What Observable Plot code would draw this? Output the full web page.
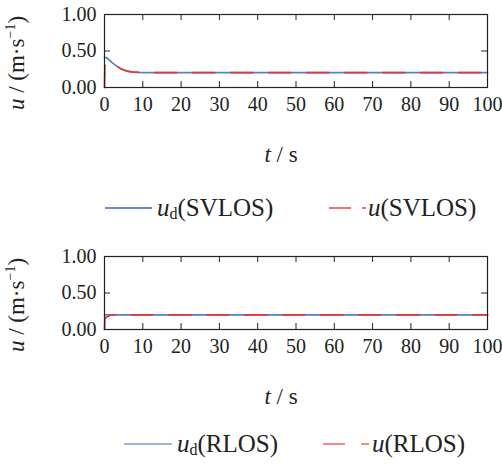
<!DOCTYPE html>
<html>
<head>
<meta charset="utf-8">
<script src="https://cdn.jsdelivr.net/npm/d3@7"></script>
<script src="https://cdn.jsdelivr.net/npm/@observablehq/plot@0.6"></script>
<style>
  body { margin: 0; background: #fff; }
  #wrap { position: relative; width: 502px; height: 464px; font-family: "Liberation Serif", "Times New Roman", serif; color: #222; }
  .abs { position: absolute; white-space: nowrap; }
  .ylab { font-size: 23px; transform: translate(-50%, -50%) rotate(-90deg); }
  .xlab { font-size: 23px; transform: translate(-50%, -50%); }
  .leg { font-size: 25px; transform: translateY(-50%); }
  .ylab sup { font-size: 14px; vertical-align: 9px; }
  .leg sub { font-size: 16px; vertical-align: -3px; }
</style>
</head>
<body>
<div id="wrap"></div>
<script>
// ---- data ----
const xTicks = [0, 10, 20, 30, 40, 50, 60, 70, 80, 90, 100];
const yTicks = [0, 0.5, 1];

// SVLOS
const tSV = [0, 0.1, 0.2, 0.6, 1, 1.5, 2, 3, 4, 5, 6, 7, 8, 9, 10, 100];
const udSV = [0.415, 0.414, 0.413, 0.405, 0.39, 0.365, 0.34, 0.30, 0.265, 0.24, 0.225, 0.215, 0.209, 0.206, 0.205, 0.205];
const uSV = [0, 0.29, 0.30, 0.33, 0.35, 0.355, 0.34, 0.30, 0.265, 0.24, 0.225, 0.215, 0.209, 0.206, 0.205, 0.205];

// RLOS
const tR = [0, 0.1, 0.5, 1, 1.5, 2, 100];
const udR = [0.2, 0.2, 0.2, 0.2, 0.2, 0.2, 0.2];
const uR = [0, 0.15, 0.17, 0.18, 0.195, 0.2, 0.2];

const blue = "#4f82cf";
const red = "#ee3338";

function chart(t, ud, u) {
  const A = t.map((x, i) => ({t: x, v: ud[i]}));
  const B = t.map((x, i) => ({t: x, v: u[i]}));
  const W = 502, H = 120, mt = 14, mb = 33, ml = 104, mr = 15;
  const fw = W - ml - mr, fh = H - mt - mb;
  return Plot.plot({
    width: W, height: H,
    marginTop: mt, marginBottom: mb, marginLeft: ml, marginRight: mr,
    style: {fontFamily: "'Liberation Serif', serif", fontSize: "19px", color: "#222", background: "transparent"},
    x: {domain: [0, 100]},
    y: {domain: [0, 1]},
    marks: [
      Plot.axisX({ticks: xTicks, tickSize: 0, tickPadding: 9, label: null, fontSize: 20}),
      Plot.axisY({ticks: yTicks, tickSize: 0, tickPadding: 8, label: null, tickFormat: d3.format(".2f"), fontSize: 20}),
      Plot.tickX(xTicks, {x: d => d, insetTop: fh - 6, stroke: "#222"}),
      Plot.tickX(xTicks, {x: d => d, insetBottom: fh - 6, stroke: "#222"}),
      Plot.tickY(yTicks, {y: d => d, insetRight: fw - 6, stroke: "#222"}),
      Plot.tickY(yTicks, {y: d => d, insetLeft: fw - 6, stroke: "#222"}),
      Plot.line(A, {x: "t", y: "v", stroke: blue, strokeWidth: 1.7}),
      Plot.line(B, {x: "t", y: "v", stroke: red, strokeWidth: 1.7, strokeDasharray: "22,16"}),
      Plot.frame({stroke: "#222", strokeWidth: 1.2})
    ]
  });
}

const wrap = document.getElementById("wrap");
function place(el, left, top) {
  el.style.position = "absolute"; el.style.left = left + "px"; el.style.top = top + "px";
  wrap.appendChild(el);
}
function div(cls, html, left, top) {
  const d = document.createElement("div");
  d.className = "abs " + cls; d.innerHTML = html;
  d.style.left = left + "px"; d.style.top = top + "px";
  wrap.appendChild(d);
  return d;
}
function swatch(x1, x2, y, color, dash) {
  const s = document.createElementNS("http://www.w3.org/2000/svg", "svg");
  s.setAttribute("width", x2 - x1); s.setAttribute("height", 6);
  s.style.position = "absolute"; s.style.left = x1 + "px"; s.style.top = (y - 3) + "px";
  const l = document.createElementNS("http://www.w3.org/2000/svg", "line");
  l.setAttribute("x1", 0); l.setAttribute("x2", x2 - x1); l.setAttribute("y1", 3); l.setAttribute("y2", 3);
  l.setAttribute("stroke", color); l.setAttribute("stroke-width", 1.6);
  if (dash) l.setAttribute("stroke-dasharray", dash);
  s.appendChild(l);
  wrap.appendChild(s);
}

// chart 1
place(chart(tSV, udSV, uSV), 0, 0);
div("ylab", "<i>u</i> / (m·s<sup>−1</sup>)", 16, 63);
div("xlab", "<i>t</i> / s", 281, 155);
swatch(105, 152, 208, "#3d63b5");
div("leg", "<i>u</i><sub>d</sub>(SVLOS)", 157, 208);
swatch(329, 366, 208, "#ee4444", "22,11");
div("leg", "<i>u</i>(SVLOS)", 368, 208);

// chart 2
place(chart(tR, udR, uR), 0, 242);
div("ylab", "<i>u</i> / (m·s<sup>−1</sup>)", 16, 305);
div("xlab", "<i>t</i> / s", 281, 397);
swatch(124, 172, 444, "#7a9ed8");
div("leg", "<i>u</i><sub>d</sub>(RLOS)", 177, 444);
swatch(323, 369, 444, "#f06666", "22,16");
div("leg", "<i>u</i>(RLOS)", 372, 444);
</script>
</body>
</html>
